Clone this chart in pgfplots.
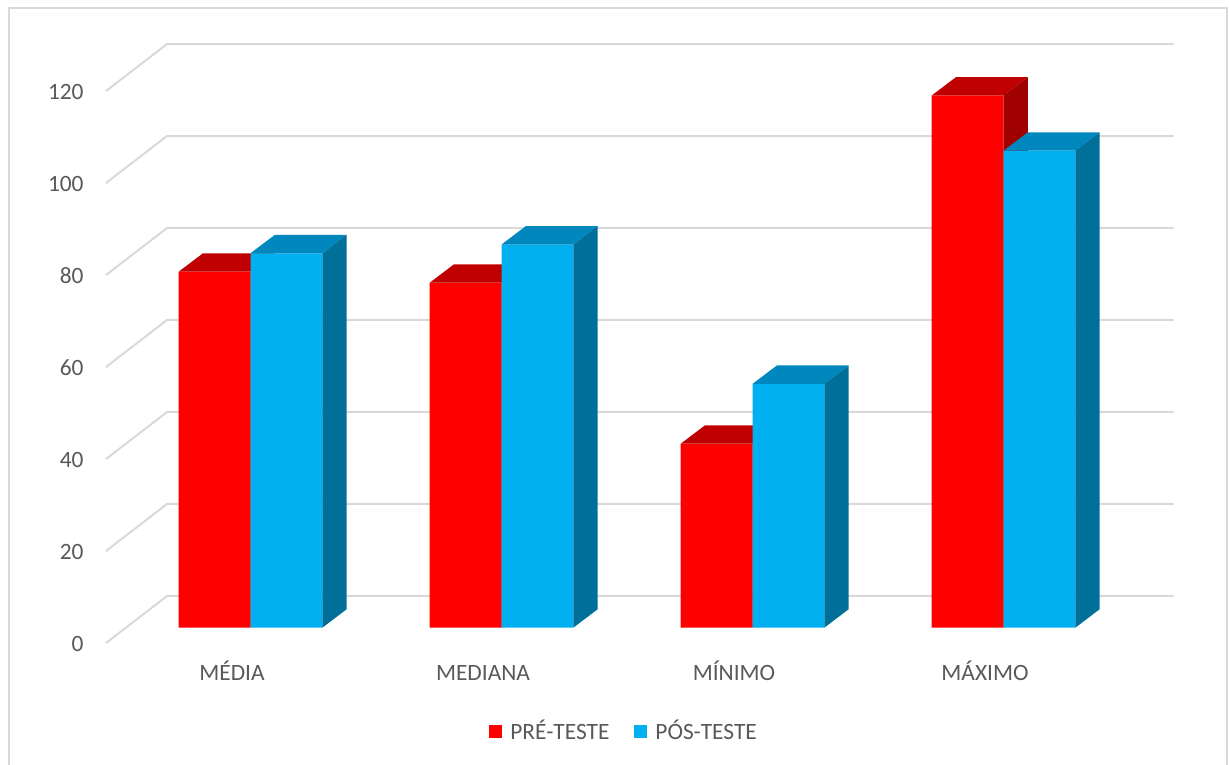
\documentclass[border=0pt]{standalone}
\usepackage{pgfplots}
\usepackage{pgfplotstable}
\pgfplotsset{compat=1.18}
\usepackage{fontspec}
\setmainfont{Carlito}
\definecolor{preF}{HTML}{FF0000}
\definecolor{preT}{HTML}{C00000}
\definecolor{preS}{HTML}{A00000}
\definecolor{posF}{HTML}{00B0F0}
\definecolor{posT}{HTML}{0088BE}
\definecolor{posS}{HTML}{00709A}
\definecolor{gridc}{HTML}{D9D9D9}
\definecolor{txt}{HTML}{595959}

\pgfplotstableread{
c pre pos
0 77.4 81.4
1 75.0 83.3
2 40.0 53.0
3 115.7 103.7
}\datatable

% top and side faces of a 3D bar, in axis units
\newcommand\barfaces[5]{%
  \pgfmathsetmacro\bfL{#1}%
  \pgfmathsetmacro\bfR{#2}%
  \pgfmathsetmacro\bfLd{#1+0.097}%
  \pgfmathsetmacro\bfRd{#2+0.097}%
  \pgfmathsetmacro\bfV{#3}%
  \pgfmathsetmacro\bfVd{#3+4}%
  \edef\bftemp{%
    \noexpand\addplot[fill=#4, draw=none, forget plot] coordinates {(\bfL,\bfV) (\bfR,\bfV) (\bfRd,\bfVd) (\bfLd,\bfVd)};%
    \noexpand\addplot[fill=#5, draw=none, forget plot] coordinates {(\bfR,0) (\bfR,\bfV) (\bfRd,\bfVd) (\bfRd,4)};%
  }\bftemp}

\begin{document}
\begin{tikzpicture}
\begin{axis}[
  scale only axis, width=614.5pt, height=382.5pt,
  xmin=-0.99801, xmax=3.89841, ymin=-29.848, ymax=136.457,
  axis line style={draw=none}, tick style={draw=none}, major tick length=0pt,
  ytick={0,20,...,120},
  yticklabel style={anchor=base east, inner sep=0pt, xshift=42pt, yshift=-11.8pt},
  xtick={-0.0737,0.9263,1.9263,2.9263},
  xticklabels={MÉDIA,MEDIANA,MÍNIMO,MÁXIMO},
  xticklabel style={anchor=base, inner sep=0pt, yshift=42.15pt},
  tick label style={font=\fontsize{11.7}{14}\selectfont, text=txt},
  /pgf/number format/assume math mode=true,
  legend style={at={(0.507,0.0444)}, anchor=center, draw=none, fill=none,
    legend columns=-1, font=\fontsize{11.7}{14}\selectfont, text=txt,
    nodes={inner sep=0pt},
    /tikz/every odd column/.append style={column sep=4pt},
    /tikz/every even column/.append style={column sep=12.5pt}},
  legend image code/.code={\fill[#1] (0pt,-3.25pt) rectangle (6.5pt,3.25pt);},
]
% chart frame
\addplot[draw=gridc, line width=1pt, forget plot] coordinates {(-0.96215,-40) (-0.96215,134.72) (3.8892,134.72) (3.8892,-40)};
% gridlines (front diagonal + back wall)
\pgfplotsforeachungrouped \gv in {0,20,...,120}{%
  \pgfmathsetmacro\gya{\gv-3.33}%
  \pgfmathsetmacro\gyb{\gv+6.89}%
  \edef\gtemp{\noexpand\addplot[draw=gridc, line width=1pt, forget plot] coordinates {(-0.5757,\gya) (-0.3327,\gyb) (3.678,\gyb)};}\gtemp
}
% PRE-TESTE
\addplot[ybar, bar width=0.286, bar shift=-0.143, fill=preF, draw=none] table[x=c, y=pre]{\datatable};
\addlegendentry{PRÉ-TESTE}
\pgfplotsforeachungrouped \i in {0,1,2,3}{%
  \pgfplotstablegetelem{\i}{pre}\of\datatable
  \let\curval\pgfplotsretval
  \barfaces{\i-0.286}{\i}{\curval}{preT}{preS}%
}
% POS-TESTE
\addplot[ybar, bar width=0.286, bar shift=0.143, fill=posF, draw=none] table[x=c, y=pos]{\datatable};
\addlegendentry{PÓS-TESTE}
\pgfplotsforeachungrouped \i in {0,1,2,3}{%
  \pgfplotstablegetelem{\i}{pos}\of\datatable
  \let\curval\pgfplotsretval
  \barfaces{\i}{\i+0.286}{\curval}{posT}{posS}%
}
\end{axis}
\end{tikzpicture}
\end{document}
